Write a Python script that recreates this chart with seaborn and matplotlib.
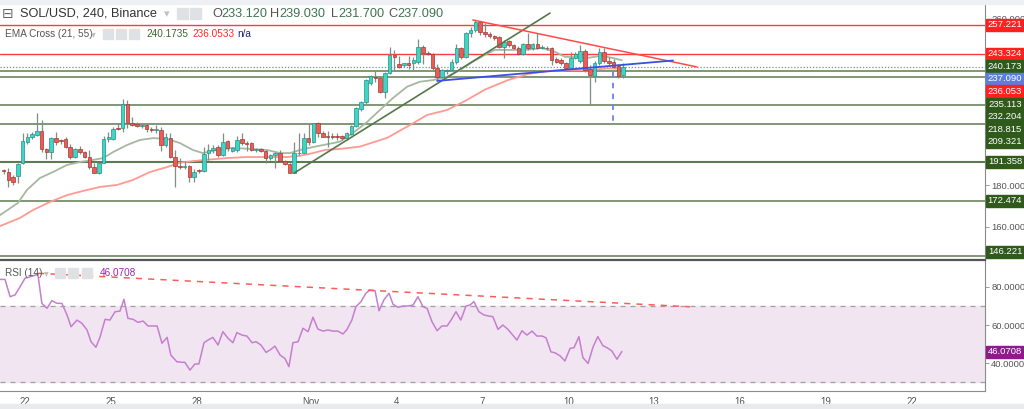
import numpy as np
import matplotlib
matplotlib.use("Agg")
import matplotlib.pyplot as plt
import seaborn as sns
from matplotlib.patches import Rectangle

# ---------------- data ----------------
opens = [187.0,186.6,184.1,184.5,190.6,200.9,203.1,204.2,206.1,197.3,
         195.9,202.6,201.4,202.1,198.6,193.5,197.3,195.9,193.8,188.9,
         186.1,190.9,202.1,202.5,207.5,207.5,219.0,210.1,209.5,208.5,
         208.8,206.9,206.7,206.6,199.4,202.6,193.8,189.5,189.0,189.5,
         184.1,187.2,186.9,195.5,197.0,198.6,194.6,201.3,196.3,197.0,
         202.1,200.5,200.2,196.8,197.5,196.6,193.0,194.6,195.7,191.7,
         190.3,186.1,195.4,195.7,202.6,200.9,209.8,205.0,203.6,203.4,
         203.3,203.5,202.6,204.7,208.5,216.5,219.9,229.0,232.2,231.8,
         225.0,234.1,242.6,238.3,237.8,238.6,238.6,239.4,246.6,243.5,
         243.0,236.3,232.2,234.8,235.4,239.4,245.9,241.8,253.0,254.7,
         258.4,253.9,252.6,252.0,251.3,246.6,249.3,247.4,245.9,243.0,
         247.8,245.9,247.8,246.2,246.2,245.9,240.6,240.2,238.7,236.5,
         241.1,239.8,244.6,236.1,232.7,238.7,243.9,239.8,239.4,237.4,
         233.12]
highs = [187.8,188.2,184.8,190.8,205.0,205.0,205.5,214.9,211.4,198.0,
         203.4,205.8,202.5,203.0,200.0,198.0,199.0,196.5,197.0,190.5,
         191.3,203.5,205.5,208.0,210.0,221.5,221.0,213.0,210.5,209.8,
         210.0,208.0,209.0,207.8,205.0,205.0,197.0,193.0,191.5,190.0,
         188.0,188.0,198.6,200.0,199.5,199.5,205.0,202.0,198.5,203.5,
         205.0,201.5,200.8,198.0,198.0,197.0,195.0,196.0,197.0,192.0,
         190.8,200.9,205.0,205.0,209.8,210.2,210.5,206.0,206.0,205.0,
         205.0,204.0,205.5,209.0,217.5,220.5,231.0,233.0,235.0,232.5,
         234.5,246.6,245.0,242.0,239.0,242.0,241.5,250.3,247.5,244.5,
         243.5,238.5,236.0,236.0,240.5,247.8,246.5,253.5,256.0,259.5,
         259.0,258.0,253.5,252.5,252.0,250.0,250.0,248.0,247.0,248.5,
         253.1,248.5,253.1,247.5,247.0,246.5,241.5,241.0,239.5,244.0,
         244.0,247.5,245.5,238.0,240.0,245.9,245.9,241.5,240.5,238.5,
         239.03]
lows = [185.5,179.0,180.2,181.0,190.3,200.0,202.5,203.5,196.2,192.5,
        192.5,199.5,200.0,197.8,192.8,193.0,195.0,193.0,188.0,185.8,
        185.5,190.5,201.0,202.0,206.5,205.5,207.5,208.5,207.8,207.5,
        205.5,205.5,205.0,196.6,198.6,193.0,179.2,188.0,188.0,181.7,
        181.7,186.0,186.5,192.0,195.5,193.5,194.3,196.5,195.8,196.0,
        199.5,196.6,196.5,196.0,196.0,190.6,192.0,188.2,191.0,190.0,
        185.8,185.8,194.8,195.5,199.5,200.5,203.0,203.0,198.5,202.5,
        202.0,202.0,202.0,204.0,208.0,215.5,219.0,228.0,229.5,224.2,
        221.8,233.5,235.0,236.5,237.0,236.0,235.5,238.5,238.5,242.5,
        235.5,230.6,231.5,233.5,235.0,238.5,240.5,241.0,251.5,253.5,
        252.5,251.5,251.0,250.0,246.0,241.0,246.5,245.5,242.5,242.5,
        245.0,245.0,245.5,245.5,245.0,237.8,239.0,238.0,236.0,235.8,
        240.5,239.0,234.5,218.6,229.8,238.0,239.0,238.0,236.5,231.5,
        231.70]
closes = [186.8,182.6,181.7,190.3,201.3,203.1,204.5,206.1,197.3,195.9,
          202.6,200.9,201.2,198.6,193.8,197.3,195.9,193.8,188.9,186.1,
          190.9,202.1,203.0,207.3,207.2,219.0,210.1,209.0,208.3,208.9,
          206.9,206.7,207.2,199.4,203.1,193.8,189.3,189.0,189.2,184.1,
          186.6,186.8,194.9,197.0,198.1,194.6,200.9,197.8,197.8,201.8,
          200.2,199.7,197.0,197.4,196.6,193.0,194.6,195.7,191.7,190.3,
          186.1,195.4,195.7,202.6,200.9,209.8,205.0,203.4,203.3,203.2,
          203.2,202.6,205.0,208.7,217.0,219.9,230.6,232.6,231.8,225.0,
          234.1,242.6,241.8,237.0,238.6,237.8,240.2,246.6,243.5,243.0,
          236.3,232.2,235.4,235.5,239.4,245.9,241.8,253.1,254.7,258.7,
          253.9,252.6,251.9,251.0,246.6,249.0,247.4,245.9,243.0,247.8,
          245.9,247.8,245.9,246.4,245.8,240.2,239.4,238.7,236.5,241.1,
          243.0,244.6,235.4,233.0,238.7,244.2,239.8,238.7,237.0,232.7,
          237.09]
# candle time in days from Oct 22 00:00, one per 4h
first_candle_day = -0.75
candle_days = first_candle_day + np.arange(len(opens)) / 6.0

ema21_day = [-0.87,-0.25,0.07,0.52,0.98,1.47,1.92,2.38,2.73,3.08,3.57,4.02,4.48,4.97,5.42,5.87,
             6.22,6.71,7.27,7.87,8.46,8.92,9.27,9.62,10.07,10.77,11.01,11.47,11.96,12.41,12.87,
             13.36,13.81,14.27,14.76,15.21,15.66,16.08,16.43,17.48,18.08,18.53,18.88,19.69,20.17,
             20.52,20.87]
ema21_val = [165.7,171.5,177.8,183.5,186.4,189.8,191.2,192.2,193.1,196.0,199.4,201.8,202.7,202.3,200.3,197.0,
             195.5,197.0,198.0,197.5,197.0,195.5,195.5,197.0,198.4,200.3,201.0,205.2,210.4,216.2,222.0,
             227.4,229.8,230.6,232.2,235.4,239.4,242.7,245.1,245.1,246.0,244.2,241.8,241.3,242.3,
             241.3,240.17]
ema55_day = [-0.87,-0.18,0.28,0.87,1.47,2.03,2.62,3.22,3.78,4.37,4.97,5.42,6.12,7.06,7.76,9.16,9.62,
             10.07,10.49,11.01,11.71,12.66,13.36,14.06,14.76,15.45,16.08,16.89,17.59,18.29,18.99,
             19.69,20.38,20.87]
ema55_val = [160.4,164.3,168.1,172.0,175.3,177.3,179.2,180.2,182.6,186.4,188.8,190.9,192.0,193.1,193.6,193.6,194.2,
             195.5,197.0,197.5,198.6,202.8,208.2,213.8,216.2,221.0,226.0,230.6,233.5,235.0,235.4,
             235.4,236.2,236.05]

rsi_day = [-0.87,-0.70,-0.52,-0.35,-0.17,0.00,0.28,0.45,0.59,0.77,
           0.94,1.12,1.29,1.47,1.61,1.82,1.99,2.17,2.31,2.48,
           2.62,2.80,2.97,3.15,3.32,3.46,3.60,3.78,3.95,4.13,
           4.30,4.48,4.62,4.79,4.97,5.10,5.31,5.49,5.59,5.77,
           5.94,6.08,6.26,6.40,6.57,6.75,6.92,7.10,7.27,7.41,
           7.59,7.76,7.94,8.08,8.25,8.43,8.60,8.74,8.92,9.09,
           9.23,9.37,9.55,9.72,9.90,10.07,10.24,10.42,10.59,10.77,
           10.94,11.12,11.26,11.43,11.57,11.75,11.92,12.06,12.24,12.38,
           12.55,12.73,12.87,13.04,13.22,13.39,13.57,13.74,13.92,14.06,
           14.23,14.41,14.58,14.76,14.90,15.07,15.24,15.42,15.56,15.70,
           15.87,16.05,16.22,16.36,16.54,16.71,16.89,17.20,17.38,17.55,
           17.73,17.90,18.08,18.22,18.39,18.53,18.71,18.88,19.06,19.20,
           19.37,19.51,19.69,19.86,20.03,20.21,20.35,20.52,20.70,20.87]
rsi_val = [84.0,84.0,74.9,75.8,80.2,84.6,85.8,86.8,71.4,68.8,
           72.8,71.4,71.4,65.3,59.1,62.6,60.9,57.4,51.2,48.3,
           53.5,63.0,62.6,67.0,67.3,73.5,63.5,63.0,61.4,62.1,
           59.5,59.5,59.5,50.4,53.5,44.2,40.7,40.4,40.4,36.3,
           39.5,39.5,50.7,52.1,53.5,49.5,56.5,53.0,50.7,56.0,
           54.7,54.2,50.7,51.2,49.5,45.6,47.2,48.9,44.2,42.4,
           38.1,50.7,51.2,58.3,56.5,64.1,57.9,56.8,57.4,56.8,
           56.8,55.3,57.7,62.6,69.6,72.3,76.7,78.4,78.1,67.5,
           73.2,76.7,70.9,69.3,70.0,70.0,70.5,74.9,69.6,68.8,
           61.8,57.0,59.5,59.5,62.6,67.0,62.6,70.0,70.5,72.3,
           67.0,65.3,64.7,64.4,57.7,60.0,57.7,52.1,57.0,54.7,
           56.8,54.2,54.2,53.3,45.9,45.4,43.8,41.1,47.7,48.1,
           53.9,42.8,39.8,48.3,53.9,49.1,48.1,46.4,42.0,46.07]

levels_red = [257.221, 243.324]
levels_green = [235.113, 232.204, 218.815, 209.321, 191.358, 172.474, 146.221]
last_price = 237.090
ema21_last = 240.173
ema55_last = 236.053
rsi_last = 46.0708

green_trend_day = [9.41, 18.36]
green_trend_val = [185.9, 262.8]
red_trend_day = [15.66, 23.5]
red_trend_val = [259.5, 236.9]
blue_trend_day = [14.41, 22.66]
blue_trend_val = [230.2, 240.0]
target_day = 20.55
target_val = [234.5, 209.3]
rsi_trend_day = [0.465, 23.25]
rsi_trend_val = [87.2, 69.6]

tick_days = [0, 3, 6, 10, 13, 16, 19, 22, 25, 28, 31]
tick_labels = ["22", "25", "28", "Nov", "4", "7", "10", "13", "16", "19", "22"]
price_ticks = [160, 180, 260]
rsi_ticks = [40, 60, 80]

# ---------------- style ----------------
sns.set_style("white")
plt.rcParams['font.family'] = ['Liberation Sans', 'DejaVu Sans']

W, H = 1024, 409
fig = plt.figure(figsize=(W / 100, H / 100), dpi=100)
fig.patch.set_facecolor("white")

def fx(x):
    return x / W

def fy(y):
    return 1 - y / H

ax = fig.add_axes([0, fy(258), fx(985), (258 - 5) / H])
ax2 = fig.add_axes([0, fy(391), fx(985), (391 - 260) / H])

XL = (-0.874, 33.57)
for a in (ax, ax2):
    a.set_xlim(*XL)
    a.set_facecolor("white")
ax.set_ylim(145.06, 266.69)
ax2.set_ylim(25.3, 94.2)

# ---- horizontal levels ----
for v in levels_red:
    ax.axhline(v, color="#ff3b3b", lw=1.0, zorder=2)
for v in levels_green:
    ax.axhline(v, color="#5e7a52", lw=1.5 if v == 191.358 else 1.1, zorder=2)
ax.axhline(last_price, color="#6f86e8", lw=0.9, ls=(0, (1, 1.5)), zorder=2)

# ---- EMA lines ----
sns.lineplot(x=ema21_day, y=ema21_val, ax=ax, color="#a7b8a0", lw=1.3, sort=False, estimator=None, zorder=3)
sns.lineplot(x=ema55_day, y=ema55_val, ax=ax, color="#ff9a93", lw=1.3, sort=False, estimator=None, zorder=3)

# ---- candles ----
o = np.array(opens); c = np.array(closes); h = np.array(highs); l = np.array(lows)
up = c >= o
ax.vlines(candle_days, l, h, color="#7f8f82", lw=0.9, zorder=4)
body_lo = np.minimum(o, c)
body_h = np.maximum(np.abs(c - o), 0.35)
ax.bar(candle_days[up], body_h[up], bottom=body_lo[up], width=0.125,
       color="#3bd6c6", edgecolor="#2a8f86", lw=0.5, zorder=5)
ax.bar(candle_days[~up], body_h[~up], bottom=body_lo[~up], width=0.125,
       color="#ee5a55", edgecolor="#a03a36", lw=0.5, zorder=5)

# ---- trend lines ----
ax.plot(green_trend_day, green_trend_val, color="#55784a", lw=1.2, zorder=6)
ax.plot(red_trend_day, red_trend_val, color="#ff4a4a", lw=1.1, zorder=6)
ax.plot(blue_trend_day, blue_trend_val, color="#3b4ee6", lw=1.3, zorder=6)
ax.plot([target_day, target_day], target_val, color="#6d7ff0", lw=1.3, ls=(0, (3, 3)), zorder=6)

# ---- RSI ----
ax2.axhspan(30, 70, color="#f1e5f2", zorder=0)
ax2.axhline(70, color="#a0a0a0", lw=0.9, ls=(0, (4, 4)))
ax2.axhline(30, color="#a0a0a0", lw=0.9, ls=(0, (4, 4)))
sns.lineplot(x=rsi_day, y=rsi_val, ax=ax2, color="#c67fcf", lw=1.1, sort=False, estimator=None, zorder=3)
ax2.plot(rsi_trend_day, rsi_trend_val, color="#ff5a5a", lw=1.1, ls=(0, (4, 4)), zorder=4)

# ---- axes styling ----
for a in (ax, ax2):
    a.spines["left"].set_visible(False)
    a.spines["right"].set_color("#8a8a8a")
    a.spines["right"].set_linewidth(0.8)
ax.spines["top"].set_visible(False)
ax.spines["bottom"].set_visible(False)
ax2.spines["top"].set_color("#555555")
ax2.spines["top"].set_linewidth(1.6)
ax2.spines["bottom"].set_color("#8a8a8a")
ax2.spines["bottom"].set_linewidth(0.8)

TICK_FS = 6.8
ax.set_xticks([])
ax.yaxis.tick_right()
ax.set_yticks(price_ticks)
ax.set_yticklabels([f"{v:.3f}" for v in price_ticks])
ax.tick_params(axis="y", direction="out", length=3, width=0.6, colors="#8a8a8a",
               labelcolor="#555555", labelsize=TICK_FS, pad=1.5)

ax2.yaxis.tick_right()
ax2.set_yticks(rsi_ticks)
ax2.set_yticklabels([f"{v:.4f}" for v in rsi_ticks])
ax2.tick_params(axis="y", direction="out", length=3, width=0.6, colors="#8a8a8a",
                labelcolor="#555555", labelsize=TICK_FS, pad=1.5)
ax2.set_xticks(tick_days)
ax2.set_xticklabels(tick_labels)
ax2.tick_params(axis="x", direction="out", length=3, width=0.6, colors="#8a8a8a",
                labelcolor="#555555", labelsize=7, pad=1.5)
ax.set_xlabel(""); ax.set_ylabel(""); ax2.set_xlabel(""); ax2.set_ylabel("")

# ---- grey strips top / bottom ----
fig.patches.append(Rectangle((0, fy(4)), 1, 4 / H, transform=fig.transFigure, color="#eef0f3", zorder=0))
fig.patches.append(Rectangle((0, 0), 1, 5 / H, transform=fig.transFigure, color="#e8eaed", zorder=0))

# ---- price-scale labels (stacked like the trading terminal) ----
lab_vals = [257.221, 243.324, ema21_last, last_price, ema55_last, 235.113, 232.204,
            218.815, 209.321, 191.358, 172.474, 146.221]
lab_cols = ["#ff2020", "#ff2020", "#2f5a1c", "#5b7fe0", "#ff2020", "#2f5a1c", "#2f5a1c",
            "#2f5a1c", "#2f5a1c", "#2f5a1c", "#2f5a1c", "#2f5a1c"]
order = np.argsort(lab_vals)[::-1]
prev = -1e9
for i in order:
    v = lab_vals[i]
    ypix = H - ax.transData.transform((0, v))[1]
    ypix = max(ypix, prev + 12.6)
    ypix = min(ypix, 252)
    prev = ypix
    fig.patches.append(Rectangle((fx(986), fy(ypix + 6)), fx(38), 12 / H,
                                 transform=fig.transFigure, color=lab_cols[i], zorder=5))
    fig.text(fx(1005), fy(ypix), f"{v:.3f}", color="white", fontsize=TICK_FS,
             ha="center", va="center", zorder=6)

ry = H - ax2.transData.transform((0, rsi_last))[1]
fig.patches.append(Rectangle((fx(986), fy(ry + 6)), fx(38), 12 / H,
                             transform=fig.transFigure, color="#8e1b8e", zorder=5))
fig.text(fx(1005), fy(ry), f"{rsi_last:.4f}", color="white", fontsize=TICK_FS,
         ha="center", va="center", zorder=6)

# ---- legends / headers ----
def icon(x, y, w=11, h=11):
    fig.patches.append(Rectangle((fx(x), fy(y + h)), fx(w), h / H, transform=fig.transFigure,
                                 color="#dfe1e5", zorder=5))

fig.text(fx(2), fy(14), "\u229f", fontsize=10, color="#666666", va="center", family="DejaVu Sans")
fig.text(fx(20), fy(14), "SOL/USD, 240, Binance", fontsize=9.2, color="#333333", va="center")
fig.text(fx(164), fy(14), "\u25be", fontsize=8, color="#c0c0c0", va="center", family="DejaVu Sans")
icon(177, 8); icon(190, 8)
ohlc = [("O", "233.120", 212, 9), ("H", "239.030", 270, 9), ("L", "231.700", 331, 7), ("C", "237.090", 388, 9)]
for letter, num, x, off in ohlc:
    fig.text(fx(x), fy(14), letter, fontsize=9.2, color="#555555", va="center")
    fig.text(fx(x + off), fy(14), num, fontsize=9.2, color="#3f7350", va="center")

fig.text(fx(5), fy(34), "EMA Cross (21, 55)", fontsize=7.2, color="#555555", va="center")
fig.text(fx(91), fy(34), "\u25be", fontsize=7, color="#c0c0c0", va="center", family="DejaVu Sans")
icon(103, 29, 10, 10); icon(116, 29, 10, 10); icon(129, 29, 10, 10)
fig.text(fx(146), fy(34), "240.1735", fontsize=7.2, color="#3a6a2a", va="center")
fig.text(fx(192), fy(34), "236.0533", fontsize=7.2, color="#ff2a2a", va="center")
fig.text(fx(237), fy(34), "n/a", fontsize=7.2, color="#22228a", va="center")

fig.text(fx(5), fy(273), "RSI (14)", fontsize=7.2, color="#555555", va="center")
fig.text(fx(44), fy(273), "\u25be", fontsize=7, color="#c0c0c0", va="center", family="DejaVu Sans")
icon(55, 268, 10, 10); icon(68, 268, 10, 10); icon(82, 268, 10, 10)
fig.text(fx(100), fy(273), "46.0708", fontsize=7.2, color="#9c27b0", va="center")

fig.savefig("out.png", dpi=100, facecolor="white")
